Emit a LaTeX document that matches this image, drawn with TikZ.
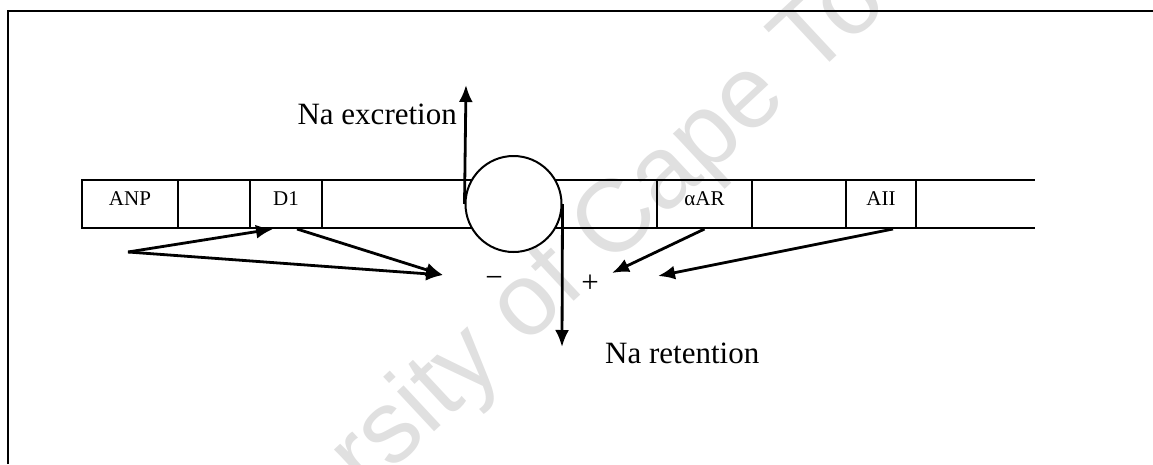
\documentclass[tikz,border=0pt]{standalone}
\usepackage{fontspec}
\setmainfont{Liberation Serif}
\newfontfamily\wmfont{Liberation Sans}
\usetikzlibrary{arrows.meta}

\begin{document}
\begin{tikzpicture}[x=1pt,y=-1pt,
	cell/.style={draw,line width=2pt,minimum height=48pt,inner sep=0pt,text depth=11pt,font=\fontsize{21}{24}\selectfont},
	big/.style={inner sep=0pt,font=\fontsize{31}{36}\selectfont},
	conn/.style={-{Latex[length=17pt,width=14pt]},line width=2.8pt},
	wm/.style={rotate=43,text=black!12,font=\wmfont\fontsize{103}{120}\selectfont}]
	\useasboundingbox (0,0) rectangle (1153,464);
	\node[wm] at (562,276)(mark){University of Cape Town};
	\draw[line width=2.8pt] (8,464) |- (1153,11);
	
	\draw[line width=2pt] (82,180) -- (1035,180) (82,228) -- (1035,228);
	\node[cell,minimum width=96pt] at (130,204)(anp){ANP};
	\node[cell,minimum width=72pt] at (214,204)(gap1){};
	\node[cell,minimum width=72pt] at (286,204)(d1){D1};
	\node[cell,minimum width=95pt] at (704.5,204)(aar){αAR};
	\node[cell,minimum width=94pt] at (799,204)(gap2){};
	\node[cell,minimum width=70pt] at (881,204)(aii){AII};
	\node[draw,circle,fill=white,line width=2pt,minimum size=96pt,inner sep=0pt] at (513.5,204)(chan){};
	
	\node[big,anchor=east] at (457,114)(exc){Na excretion};
	\node[big,anchor=west] at (605,353)(ret){Na retention};
	\node[big] at (494,282)(minus){−};
	\node[big] at (590,284)(plus){+};
	
	\coordinate (exctip) at (466,85);
	\coordinate (rettip) at (562,347);
	\coordinate (src) at (128,252);
	\coordinate (mtip) at (443,275);
	\coordinate (ptip1) at (612,273);
	\coordinate (ptip2) at (658,276);
	\path[conn](chan.west)edge(exctip)(chan.east)edge(rettip);
	\path[conn](src)edge([xshift=-13pt]d1.south)(src)edge(mtip)([xshift=11pt]d1.south)edge(mtip);
	\path[conn](aar.south)edge(ptip1)([xshift=12pt]aii.south)edge(ptip2);
\end{tikzpicture}
\end{document}
